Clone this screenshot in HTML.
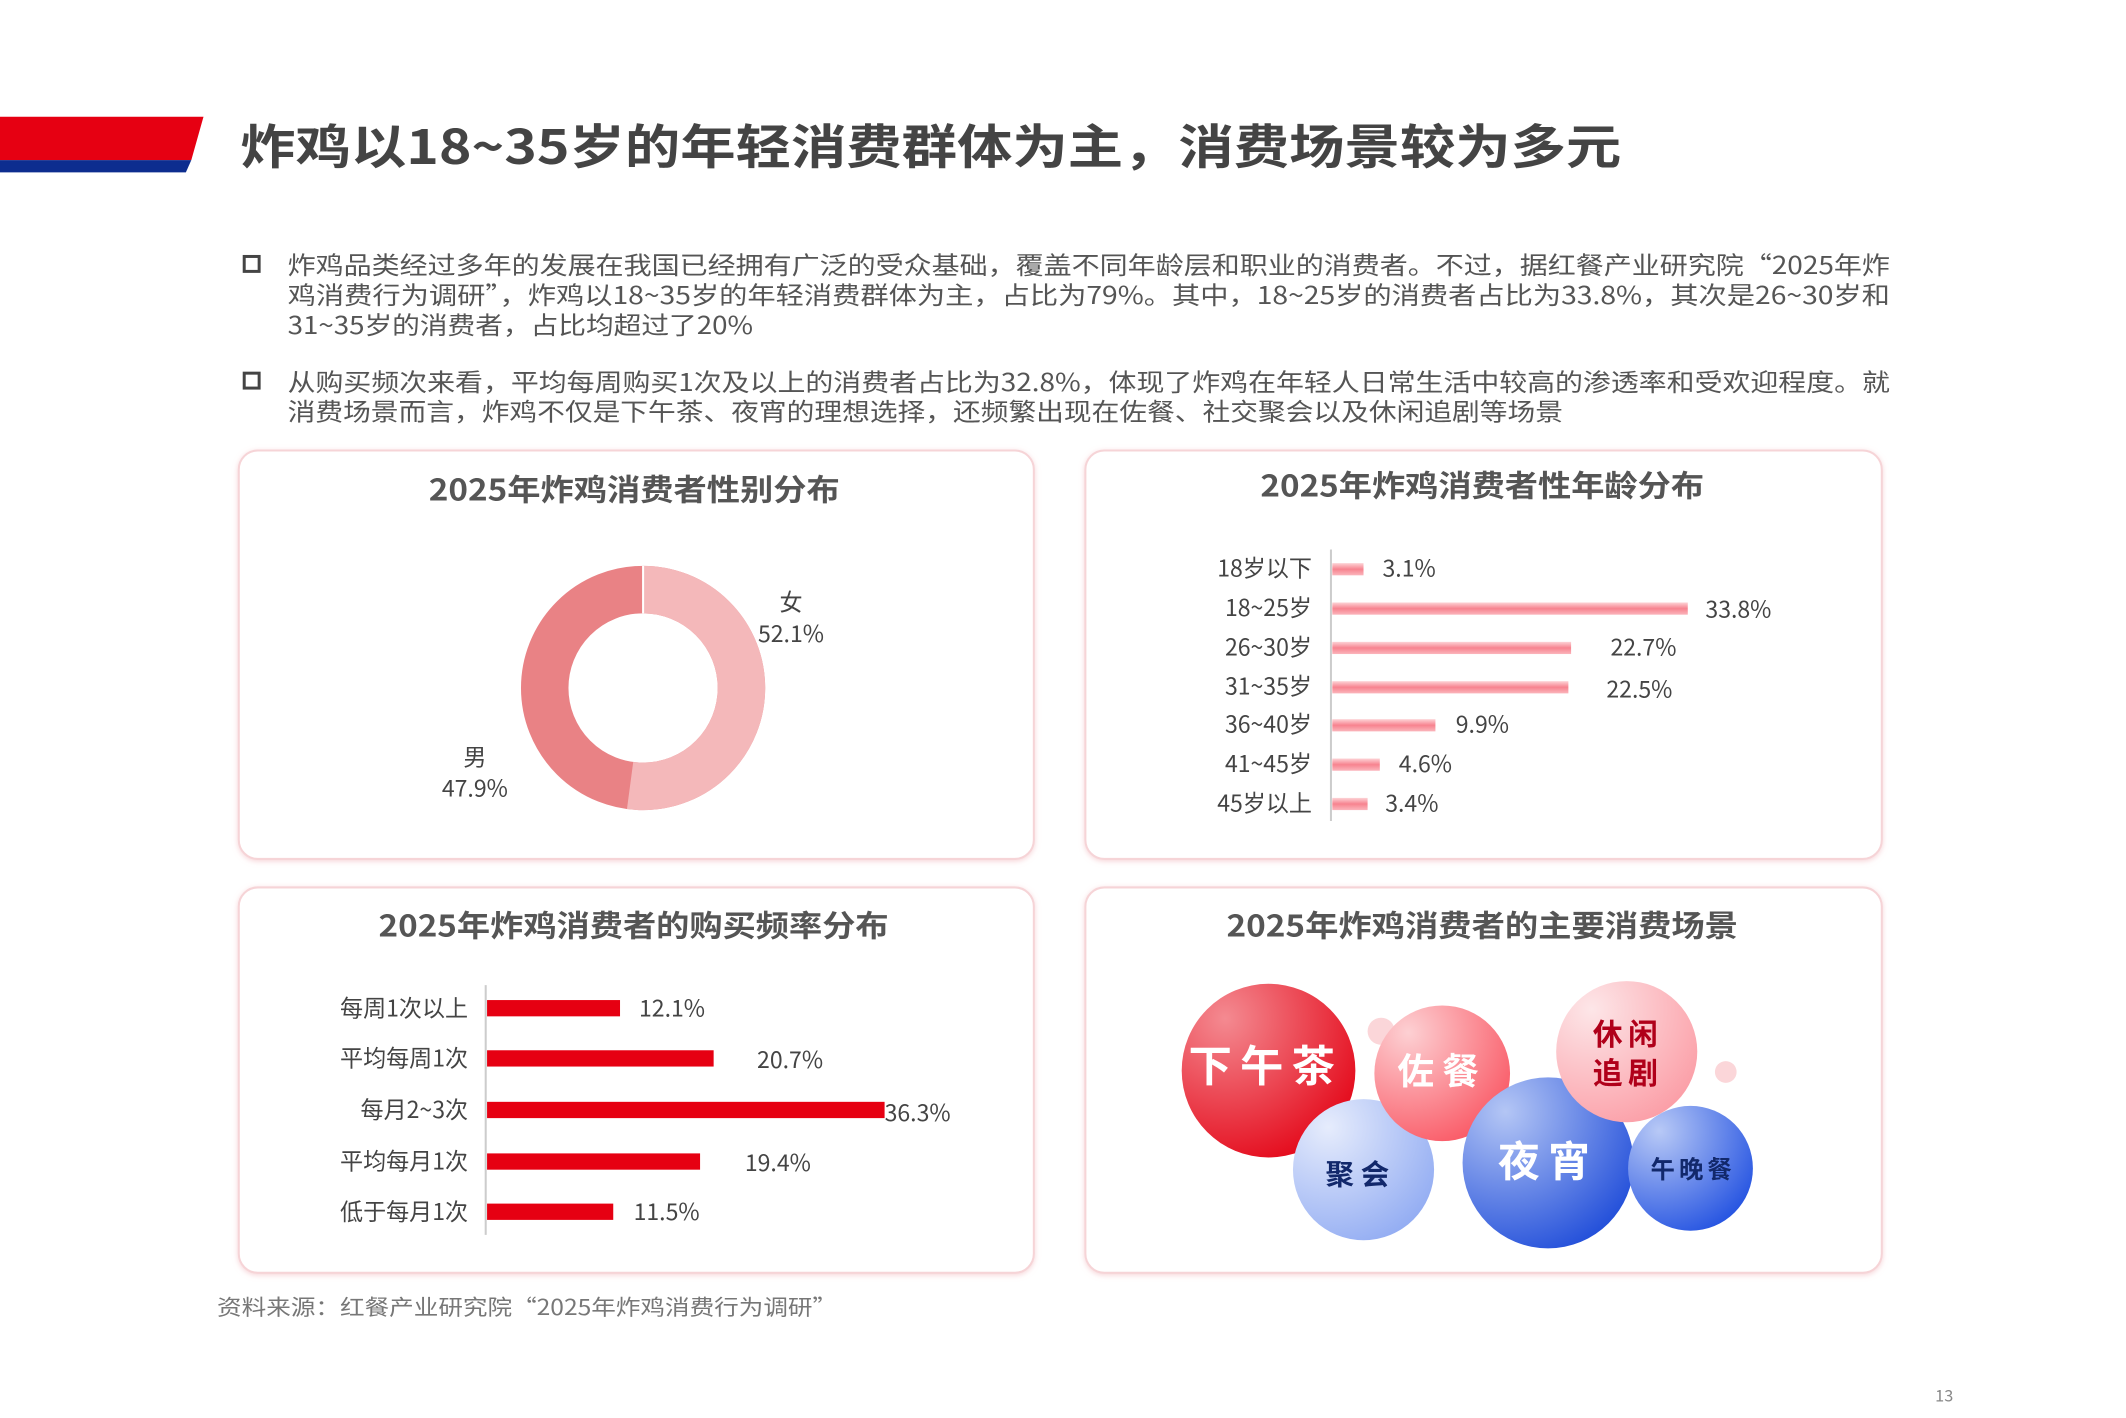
<!DOCTYPE html>
<html><head><meta charset="utf-8">
<style>
html,body{margin:0;padding:0;background:#fff;}
svg{display:block;font-family:"Noto Sans CJK SC","Liberation Sans",sans-serif;}
</style></head>
<body>
<svg width="2126" height="1418" viewBox="0 0 1567 1045" preserveAspectRatio="none" xmlns="http://www.w3.org/2000/svg">
<defs>
<filter id="sh" x="-5%" y="-5%" width="110%" height="110%"><feDropShadow dx="0" dy="1" stdDeviation="2" flood-color="#f2b8bd" flood-opacity="0.6"/></filter>
<linearGradient id="barP" x1="0" y1="0" x2="0" y2="1"><stop offset="0" stop-color="#fdd3d6"/><stop offset="0.5" stop-color="#f7838f"/><stop offset="1" stop-color="#fbb5bc"/></linearGradient>
<radialGradient id="gRed" cx="0.25" cy="0.2" r="0.95"><stop offset="0" stop-color="#f48a91"/><stop offset="1" stop-color="#e30012"/></radialGradient>
<radialGradient id="gPink" cx="0.25" cy="0.2" r="0.95"><stop offset="0" stop-color="#fdd0d3"/><stop offset="1" stop-color="#f9525f"/></radialGradient>
<radialGradient id="gLP" cx="0.25" cy="0.2" r="0.95"><stop offset="0" stop-color="#fde6e8"/><stop offset="1" stop-color="#fb9aa3"/></radialGradient>
<radialGradient id="gLB" cx="0.25" cy="0.2" r="0.95"><stop offset="0" stop-color="#e6ecfc"/><stop offset="1" stop-color="#8ea9f2"/></radialGradient>
<radialGradient id="gB" cx="0.25" cy="0.2" r="0.95"><stop offset="0" stop-color="#b4c6f5"/><stop offset="1" stop-color="#1a48d8"/></radialGradient>
<radialGradient id="gB2" cx="0.25" cy="0.2" r="0.95"><stop offset="0" stop-color="#b8c9f6"/><stop offset="1" stop-color="#1d4de0"/></radialGradient>
</defs>

<polygon points="0,86 150,86 141,118 0,118" fill="#e60012"/>
<polygon points="0,118 141,118 137,127 0,127" fill="#0d2d8f"/>
<text x="177" y="121" font-size="35" font-weight="bold" fill="#444" textLength="1018" lengthAdjust="spacingAndGlyphs">炸鸡以18~35岁的年轻消费群体为主，消费场景较为多元</text>

<g font-size="18" fill="#555" lengthAdjust="spacingAndGlyphs">
<rect x="180" y="189" width="11" height="11" fill="none" stroke="#444" stroke-width="2.2"/>
<text x="212" y="202" textLength="1181" lengthAdjust="spacingAndGlyphs">炸鸡品类经过多年的发展在我国已经拥有广泛的受众基础，覆盖不同年龄层和职业的消费者。不过，据红餐产业研究院“2025年炸</text>
<text x="212" y="224" textLength="1181" lengthAdjust="spacingAndGlyphs">鸡消费行为调研”，炸鸡以18~35岁的年轻消费群体为主，占比为79%。其中，18~25岁的消费者占比为33.8%，其次是26~30岁和</text>
<text x="212" y="246" textLength="343" lengthAdjust="spacingAndGlyphs">31~35岁的消费者，占比均超过了20%</text>
<rect x="180" y="275" width="11" height="11" fill="none" stroke="#444" stroke-width="2.2"/>
<text x="212" y="288" textLength="1181" lengthAdjust="spacingAndGlyphs">从购买频次来看，平均每周购买1次及以上的消费者占比为32.8%，体现了炸鸡在年轻人日常生活中较高的渗透率和受欢迎程度。就</text>
<text x="212" y="310" textLength="940" lengthAdjust="spacingAndGlyphs">消费场景而言，炸鸡不仅是下午茶、夜宵的理想选择，还频繁出现在佐餐、社交聚会以及休闲追剧等场景</text>
</g>

<g fill="#fff" stroke="#f6d4d7" stroke-width="1.5" filter="url(#sh)">
<rect x="176" y="332" width="586" height="301" rx="14"/>
<rect x="800" y="332" width="587" height="301" rx="14"/>
<rect x="176" y="654" width="586" height="284" rx="14"/>
<rect x="800" y="654" width="587" height="284" rx="14"/>
</g>
<g font-size="22" font-weight="bold" fill="#555">
<text x="316" y="369" textLength="303" lengthAdjust="spacingAndGlyphs">2025年炸鸡消费者性别分布</text>
<text x="929" y="366" textLength="327" lengthAdjust="spacingAndGlyphs">2025年炸鸡消费者性年龄分布</text>
<text x="279" y="690" textLength="376" lengthAdjust="spacingAndGlyphs">2025年炸鸡消费者的购买频率分布</text>
<text x="904" y="690" textLength="377" lengthAdjust="spacingAndGlyphs">2025年炸鸡消费者的主要消费场景</text>
</g>

<circle cx="474" cy="507" r="72.5" fill="none" stroke="#e98285" stroke-width="35"/>
<circle cx="474" cy="507" r="72.5" fill="none" stroke="#f4b8ba" stroke-width="35" stroke-dasharray="237.3 1000" transform="rotate(-90 474 507)"/>
<line x1="474" y1="417" x2="474" y2="452" stroke="#fff" stroke-width="1.5"/>
<g font-size="17" fill="#444" text-anchor="middle">
<text x="583" y="450">女</text><text x="583" y="473">52.1%</text>
<text x="350" y="564">男</text><text x="350" y="587">47.9%</text>
</g>

<line x1="981" y1="405" x2="981" y2="605" stroke="#ccc" stroke-width="1.5"/>
<g fill="url(#barP)">
<rect x="982" y="415" width="23" height="9"/>
<rect x="982" y="444" width="262" height="9"/>
<rect x="982" y="473" width="176" height="9"/>
<rect x="982" y="502" width="174" height="9"/>
<rect x="982" y="530" width="76" height="9"/>
<rect x="982" y="559" width="35" height="9"/>
<rect x="982" y="588" width="26" height="9"/>
</g>
<g font-size="17" fill="#444">
<g text-anchor="end">
<text x="967" y="425">18岁以下</text><text x="967" y="454">18~25岁</text><text x="967" y="483">26~30岁</text>
<text x="967" y="512">31~35岁</text><text x="967" y="540">36~40岁</text><text x="967" y="569">41~45岁</text><text x="967" y="598">45岁以上</text>
</g>
<text x="1019" y="425">3.1%</text><text x="1257" y="455">33.8%</text><text x="1187" y="483">22.7%</text>
<text x="1184" y="514">22.5%</text><text x="1073" y="540">9.9%</text><text x="1031" y="569">4.6%</text><text x="1021" y="598">3.4%</text>
</g>

<line x1="358" y1="726" x2="358" y2="910" stroke="#ccc" stroke-width="1.5"/>
<g fill="#e60012">
<rect x="359" y="737" width="98" height="12"/>
<rect x="359" y="774" width="167" height="12"/>
<rect x="359" y="812" width="293" height="12"/>
<rect x="359" y="850" width="157" height="12"/>
<rect x="359" y="887" width="93" height="12"/>
</g>
<g font-size="17" fill="#444">
<g text-anchor="end">
<text x="345" y="749">每周1次以上</text><text x="345" y="786">平均每周1次</text><text x="345" y="824">每月2~3次</text>
<text x="345" y="862">平均每月1次</text><text x="345" y="899">低于每月1次</text>
</g>
<text x="471" y="749">12.1%</text><text x="558" y="787">20.7%</text><text x="652" y="826">36.3%</text>
<text x="549" y="863">19.4%</text><text x="467" y="899">11.5%</text>
</g>

<circle cx="1018" cy="760" r="10" fill="#fbd6d9"/>
<circle cx="1272" cy="790" r="8" fill="#fbd6d9"/>
<circle cx="935" cy="789" r="64" fill="url(#gRed)"/>
<circle cx="1005" cy="862" r="52" fill="url(#gLB)"/>
<circle cx="1063" cy="791" r="50" fill="url(#gPink)"/>
<circle cx="1141" cy="857" r="63" fill="url(#gB)"/>
<circle cx="1199" cy="775" r="52" fill="url(#gLP)"/>
<circle cx="1246" cy="861" r="46" fill="url(#gB2)"/>
<g font-weight="bold" text-anchor="middle">
<text x="933" y="797" font-size="32" fill="#fff" letter-spacing="6">下午茶</text>
<text x="1063" y="799" font-size="27" fill="#fff" letter-spacing="6">佐餐</text>
<text x="1200" y="770" font-size="22" fill="#b0001a" letter-spacing="4">休闲</text>
<text x="1200" y="799" font-size="22" fill="#b0001a" letter-spacing="4">追剧</text>
<text x="1003" y="873" font-size="21" fill="#12286b" letter-spacing="5">聚会</text>
<text x="1141" y="867" font-size="31" fill="#fff" letter-spacing="6">夜宵</text>
<text x="1248" y="868" font-size="18" fill="#12286b" letter-spacing="3">午晚餐</text>
</g>

<text x="160" y="969" font-size="16" fill="#777" textLength="457" lengthAdjust="spacingAndGlyphs">资料来源：红餐产业研究院“2025年炸鸡消费行为调研”</text>
<text x="1433" y="1033" font-size="12" fill="#888" text-anchor="middle">13</text>
</svg>
</body></html>
